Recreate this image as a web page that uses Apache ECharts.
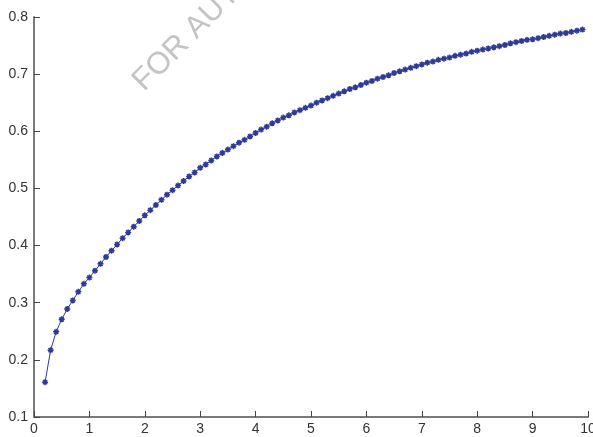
<!DOCTYPE html>
<html>
<head>
<meta charset="utf-8">
<script src="https://cdn.jsdelivr.net/npm/echarts@6/dist/echarts.min.js"></script>
<style>
  html, body { margin: 0; padding: 0; background: #fff; }
  #chart { width: 593px; height: 437px; }
</style>
</head>
<body>
<div id="chart"></div>
<script>
// Sample positions along the x axis
const xValues = [
  0.2, 0.3, 0.4, 0.5, 0.6, 0.7, 0.8, 0.9, 1.0, 1.1,
  1.2, 1.3, 1.4, 1.5, 1.6, 1.7, 1.8, 1.9, 2.0, 2.1,
  2.2, 2.3, 2.4, 2.5, 2.6, 2.7, 2.8, 2.9, 3.0, 3.1,
  3.2, 3.3, 3.4, 3.5, 3.6, 3.7, 3.8, 3.9, 4.0, 4.1,
  4.2, 4.3, 4.4, 4.5, 4.6, 4.7, 4.8, 4.9, 5.0, 5.1,
  5.2, 5.3, 5.4, 5.5, 5.6, 5.7, 5.8, 5.9, 6.0, 6.1,
  6.2, 6.3, 6.4, 6.5, 6.6, 6.7, 6.8, 6.9, 7.0, 7.1,
  7.2, 7.3, 7.4, 7.5, 7.6, 7.7, 7.8, 7.9, 8.0, 8.1,
  8.2, 8.3, 8.4, 8.5, 8.6, 8.7, 8.8, 8.9, 9.0, 9.1,
  9.2, 9.3, 9.4, 9.5, 9.6, 9.7, 9.8, 9.9
];

// Measured response at each sample position
const yValues = [
  0.161, 0.217, 0.249, 0.271, 0.289, 0.304, 0.319, 0.333, 0.344, 0.356,
  0.368, 0.380, 0.391, 0.402, 0.413, 0.423, 0.433, 0.443, 0.453, 0.462,
  0.471, 0.480, 0.489, 0.497, 0.505, 0.513, 0.521, 0.528, 0.536, 0.542,
  0.549, 0.556, 0.562, 0.568, 0.574, 0.580, 0.585, 0.591, 0.597, 0.603,
  0.608, 0.614, 0.619, 0.624, 0.628, 0.633, 0.637, 0.641, 0.645, 0.650,
  0.654, 0.658, 0.662, 0.666, 0.670, 0.674, 0.677, 0.681, 0.685, 0.688,
  0.692, 0.695, 0.698, 0.702, 0.705, 0.708, 0.711, 0.714, 0.717, 0.720,
  0.722, 0.725, 0.727, 0.729, 0.732, 0.734, 0.736, 0.739, 0.741, 0.743,
  0.745, 0.747, 0.749, 0.751, 0.754, 0.756, 0.758, 0.760, 0.761, 0.763,
  0.765, 0.767, 0.769, 0.771, 0.772, 0.774, 0.776, 0.778
];

// Axis tick labels
const xTickLabels = ['0', '1', '2', '3', '4', '5', '6', '7', '8', '9', '10'];
const yTickLabels = ['0.1', '0.2', '0.3', '0.4', '0.5', '0.6', '0.7', '0.8'];

const seriesData = xValues.map((x, i) => [x, yValues[i]]);

const lineColor = '#2e3a98';
const axisFont = { fontFamily: 'Liberation Sans, Arial, sans-serif', fontSize: 14, color: '#333' };

// asterisk marker
const starSymbol = 'path://M5,0L5,10M0,5L10,5M1.5,1.5L8.5,8.5M8.5,1.5L1.5,8.5';

const chart = echarts.init(document.getElementById('chart'), null, { renderer: 'canvas' });

chart.setOption({
  animation: false,
  backgroundColor: '#ffffff',
  grid: { left: 34, right: 5, top: 17, bottom: 20, containLabel: false, outerBoundsMode: 'none' },
  xAxis: {
    type: 'value',
    min: 0, max: 10, interval: 1,
    axisLine: { show: true, lineStyle: { color: '#7a7a7a', width: 2 } },
    axisTick: { show: true, inside: true, length: 6, lineStyle: { color: '#444', width: 1 } },
    splitLine: { show: false },
    axisLabel: Object.assign({ margin: 5,
      formatter: v => xTickLabels[Math.round(v)] }, axisFont)
  },
  yAxis: {
    type: 'value',
    min: 0.1, max: 0.8, interval: 0.1,
    axisLine: { show: true, lineStyle: { color: '#7a7a7a', width: 2 } },
    axisTick: { show: true, inside: true, length: 6, lineStyle: { color: '#444', width: 1 } },
    splitLine: { show: false },
    axisLabel: Object.assign({ margin: 6,
      formatter: v => yTickLabels[Math.round(v * 10) - 1] }, axisFont)
  },
  graphic: [{
    type: 'text',
    x: 149, y: 97,
    rotation: Math.PI / 4,
    silent: true,
    z: 0,
    style: {
      text: 'FOR AUTHOR USE ONLY',
      fill: '#c4c4c4',
      font: '31px "Liberation Sans", Arial, sans-serif',
      textAlign: 'left',
      textVerticalAlign: 'bottom'
    }
  }],
  series: [{
    type: 'line',
    data: seriesData,
    symbol: starSymbol,
    symbolSize: 6,
    showAllSymbol: true,
    lineStyle: { color: lineColor, width: 1 },
    itemStyle: { color: lineColor, borderColor: lineColor, borderWidth: 1.5 },
    z: 3
  }]
});
</script>
</body>
</html>
